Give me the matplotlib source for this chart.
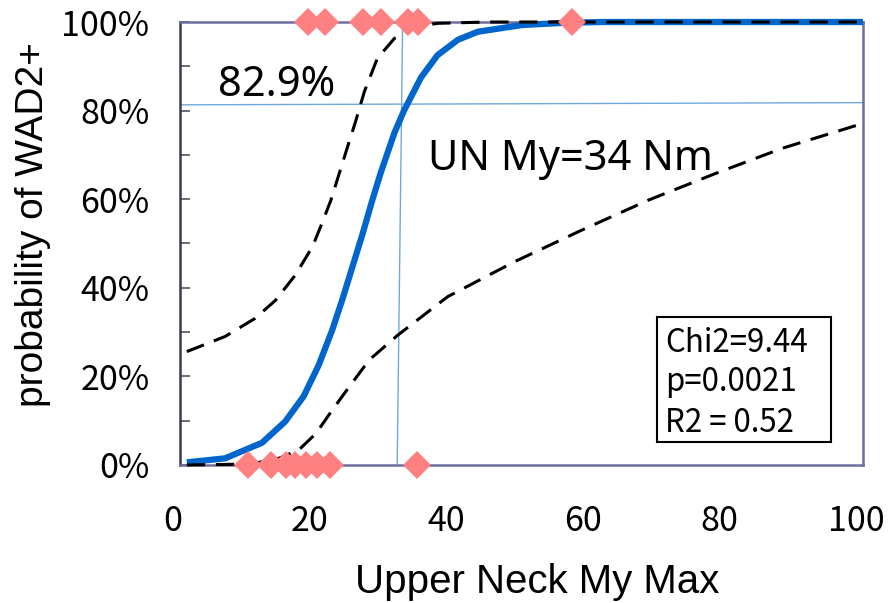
import matplotlib
matplotlib.use("Agg")
import matplotlib.pyplot as plt
from matplotlib import font_manager
from matplotlib.patches import Rectangle
from matplotlib.ticker import MultipleLocator, PercentFormatter
from matplotlib.transforms import ScaledTranslation

# fitted probability curve
fit_x = [1.0, 6.6, 12.0, 15.4, 18.1, 20.3, 22.3, 23.8, 25.2, 26.7, 28.2, 29.4,
         31.4, 32.8, 35.3, 37.7, 40.7, 43.6, 50, 56, 62, 100]
fit_y = [0.006, 0.015, 0.050, 0.098, 0.155, 0.225, 0.305, 0.375, 0.445, 0.52, 0.60, 0.66,
         0.75, 0.80, 0.875, 0.925, 0.96, 0.978, 0.993, 0.998, 1.0, 1.0]

# confidence bands
upper_x = [1.0, 6.6, 11.0, 14.0, 16.9, 19.4, 20.8, 22.1, 24.0, 25.7, 27.0, 28.9,
           31.4, 34.3, 37.7, 45, 100]
upper_y = [0.256, 0.290, 0.331, 0.372, 0.429, 0.493, 0.546, 0.598, 0.692, 0.775, 0.843, 0.918,
           0.963, 0.989, 0.997, 1.0, 1.0]
lower_x = [1.0, 10, 14, 17.4, 19.9, 22.3, 24.8, 27.7, 31.8, 36.0, 39.2, 49.0,
           58.8, 68.6, 78.4, 88.2, 98.5, 100]
lower_y = [0.0, 0.002, 0.012, 0.034, 0.071, 0.124, 0.177, 0.237, 0.292, 0.342, 0.380, 0.459,
           0.530, 0.598, 0.658, 0.715, 0.764, 0.771]

# observed cases
injured_x = [18.8, 21.2, 26.8, 29.5, 33.4, 34.9, 57.4]
uninjured_x = [9.9, 13.3, 15.5, 16.8, 18.5, 20.0, 22.0, 34.7]

# threshold guide
thr_x = [31.8, 32.6]
thr_y = [0.813, 0.818]

stats_lines = ["Chi2=9.44", "p=0.0021", "R2 = 0.52"]

installed = {f.name for f in font_manager.fontManager.ttflist}
if "Liberation Sans Narrow" in installed:
    tick_font, tick_size, box_size = "Liberation Sans Narrow", 29, 25
else:
    tick_font, tick_size, box_size = "Noto Sans CJK JP", 24.5, 22.5
lab_font = "Liberation Sans"

fig = plt.figure(figsize=(8.88, 6.03), dpi=100)
ax = fig.add_axes([0.2027, 0.2289, 0.7691, 0.7346])

ax.plot([0, 100], thr_y, color="#6FA8DC", lw=1.0, zorder=2)
ax.plot(thr_x, [0, 1], color="#6FA8DC", lw=1.0, zorder=2)

ax.plot(fit_x, fit_y, color="#0066CC", lw=4.5, clip_on=False, zorder=3,
        solid_capstyle="butt")
ax.plot(upper_x, upper_y, color="black", lw=2.2, dashes=(6, 3.5), clip_on=False, zorder=4)
ax.plot(lower_x, lower_y, color="black", lw=2.2, dashes=(6, 3.5), clip_on=False, zorder=4)

ax.plot(injured_x, [1] * len(injured_x), "D", color="#FF8080", ms=14, mew=0,
        clip_on=False, zorder=6)
ax.plot(uninjured_x, [0] * len(uninjured_x), "D", color="#FF8080", ms=14, mew=0,
        clip_on=False, zorder=6)

ax.set_xlim(0, 100)
ax.set_ylim(0, 1)
ax.xaxis.set_major_locator(MultipleLocator(20))
ax.yaxis.set_major_locator(MultipleLocator(0.2))
ax.yaxis.set_minor_locator(MultipleLocator(0.1))
ax.yaxis.set_major_formatter(PercentFormatter(1.0, decimals=0))

ax.tick_params(axis="x", length=0, pad=28, labelsize=tick_size)
ax.tick_params(axis="y", which="both", direction="in", length=7, width=1.2,
               color="#555555", pad=22, labelsize=tick_size)
shift = ScaledTranslation(-5 / 72, 0, fig.dpi_scale_trans)
for t in ax.get_xticklabels():
    t.set_family(tick_font)
    t.set_transform(t.get_transform() + shift)
for t in ax.get_yticklabels():
    t.set_family(tick_font)

for s in ["top", "right", "bottom"]:
    ax.spines[s].set_color("#6E6EA0")
    ax.spines[s].set_linewidth(1.8)
ax.spines["left"].set_color("#3A3A58")
ax.spines["left"].set_linewidth(1.8)

fig.text(537 / 888, 1 - 593 / 603, "Upper Neck My Max", family=lab_font,
         fontsize=29, ha="center", va="baseline")
fig.text(33 / 888, 1 - 225 / 603, "probability of WAD2+", family=lab_font,
         fontsize=28, ha="center", va="center", rotation=90)

ax.text(5.6, 0.833, "82.9%", family="Noto Sans", fontsize=30, va="baseline")
ax.text(36.3, 0.666, "UN My=34 Nm", family="Noto Sans", fontsize=30, va="baseline")

ax.add_patch(Rectangle((69.8, 0.052), 25.5, 0.282, fill=True, facecolor="white",
                       edgecolor="black", lw=1.5, zorder=5))
for yy, s in zip([0.255, 0.167, 0.074], stats_lines):
    ax.text(71.0, yy, s, family=tick_font, fontsize=box_size, va="baseline", zorder=6)

fig.savefig("out.png", dpi=100)
